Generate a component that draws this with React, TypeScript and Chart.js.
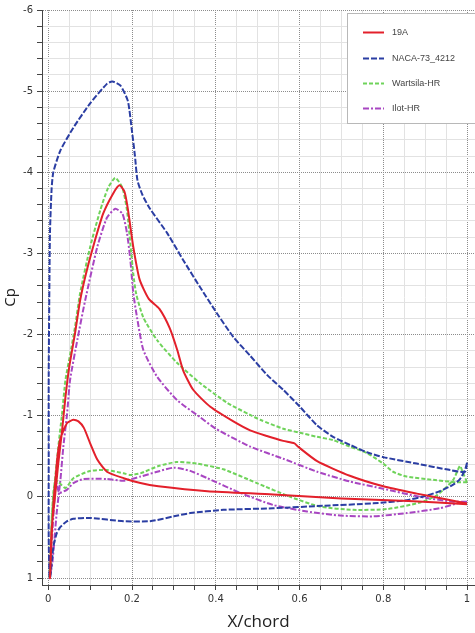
import React, { useEffect, useRef } from "react";
import { Chart, registerables } from "chart.js";

Chart.register(...registerables);

type Pt = [number, number];

// ---- Data (x/chord, Cp) : upper surface and lower surface, leading edge -> trailing edge ----
const upper19A: Pt[] = [
  [0.004, 1.0], [0.005, 0.86], [0.008, 0.4], [0.016, 0.0], [0.024, -0.42], [0.033, -0.82],
  [0.041, -1.23], [0.05, -1.6], [0.064, -2.02], [0.076, -2.42], [0.09, -2.75], [0.107, -3.08],
  [0.131, -3.49], [0.155, -3.74], [0.17, -3.84], [0.182, -3.76], [0.19, -3.55], [0.203, -3.08],
  [0.218, -2.68], [0.24, -2.44], [0.265, -2.32], [0.29, -2.08], [0.308, -1.81], [0.322, -1.56],
  [0.346, -1.32], [0.387, -1.11], [0.442, -0.93], [0.482, -0.82], [0.522, -0.75], [0.561, -0.69],
  [0.588, -0.66], [0.596, -0.62], [0.642, -0.44], [0.72, -0.26], [0.8, -0.13], [0.88, -0.04],
  [0.94, 0.02], [1.0, 0.08],
];
const lower19A: Pt[] = [
  [0.004, 1.0], [0.008, 0.5], [0.012, 0.1], [0.017, -0.21], [0.022, -0.5], [0.029, -0.72],
  [0.045, -0.91], [0.06, -0.95], [0.072, -0.93], [0.085, -0.85], [0.1, -0.66], [0.117, -0.46],
  [0.14, -0.31], [0.18, -0.23], [0.22, -0.17], [0.263, -0.13], [0.38, -0.07], [0.537, -0.03],
  [0.7, 0.02], [0.86, 0.05], [1.0, 0.09],
];

const upperNACA: Pt[] = [
  [0.003, 1.0], [0.001, 0.5], [0.001, -0.5], [0.001, -1.5], [0.002, -2.2], [0.004, -3.25],
  [0.008, -3.8], [0.012, -4.0], [0.029, -4.27], [0.06, -4.55], [0.1, -4.85], [0.14, -5.09],
  [0.153, -5.12], [0.172, -5.07], [0.19, -4.88], [0.2, -4.5], [0.207, -4.2], [0.213, -3.9],
  [0.225, -3.72], [0.243, -3.55], [0.284, -3.25], [0.322, -2.92], [0.363, -2.58], [0.403, -2.26],
  [0.442, -1.97], [0.482, -1.74], [0.523, -1.5], [0.561, -1.32], [0.601, -1.11], [0.642, -0.88],
  [0.68, -0.74], [0.721, -0.64], [0.761, -0.55], [0.8, -0.49], [0.88, -0.41], [0.96, -0.33],
  [0.995, -0.31], [1.0, -0.42],
];
const lowerNACA: Pt[] = [
  [0.003, 1.0], [0.005, 0.98], [0.012, 0.62], [0.02, 0.45], [0.029, 0.37], [0.045, 0.3],
  [0.06, 0.27], [0.1, 0.26], [0.18, 0.3], [0.243, 0.3], [0.3, 0.24], [0.339, 0.2], [0.418, 0.16],
  [0.537, 0.14], [0.656, 0.11], [0.776, 0.08], [0.856, 0.04], [0.9, -0.01], [0.935, -0.07],
  [0.967, -0.15], [0.983, -0.22], [0.995, -0.33], [1.0, -0.42],
];

const upperWartsila: Pt[] = [
  [0.003, 1.0], [0.005, 0.93], [0.009, 0.2], [0.016, -0.21], [0.024, -0.62], [0.033, -1.03],
  [0.041, -1.44], [0.052, -1.75], [0.064, -2.1], [0.076, -2.51], [0.1, -3.08], [0.124, -3.53],
  [0.143, -3.81], [0.16, -3.93], [0.177, -3.81], [0.188, -3.53], [0.196, -3.12], [0.203, -2.75],
  [0.21, -2.5], [0.227, -2.21], [0.26, -1.93], [0.308, -1.65], [0.363, -1.4], [0.427, -1.16],
  [0.482, -1.01], [0.506, -0.95], [0.561, -0.84], [0.601, -0.79], [0.642, -0.74], [0.68, -0.7],
  [0.72, -0.62], [0.761, -0.54], [0.8, -0.41], [0.823, -0.31], [0.856, -0.25], [0.919, -0.21],
  [0.976, -0.18], [1.0, -0.18],
];
const lowerWartsila: Pt[] = [
  [0.003, 1.0], [0.008, 0.3], [0.012, -0.05], [0.017, -0.2], [0.025, -0.18], [0.041, -0.11],
  [0.06, -0.23], [0.1, -0.32], [0.14, -0.33], [0.18, -0.29], [0.196, -0.27], [0.22, -0.29],
  [0.263, -0.38], [0.307, -0.43], [0.355, -0.41], [0.418, -0.34], [0.498, -0.17], [0.578, 0.0],
  [0.649, 0.12], [0.728, 0.16], [0.809, 0.15], [0.888, 0.07], [0.928, -0.02], [0.967, -0.21],
  [0.983, -0.38], [0.99, -0.3], [1.0, -0.18],
];

const upperIlot: Pt[] = [
  [0.003, 1.0], [0.01, 0.8], [0.02, 0.2], [0.029, -0.21], [0.036, -0.62], [0.045, -1.03],
  [0.052, -1.44], [0.07, -1.95], [0.088, -2.42], [0.117, -3.08], [0.14, -3.44], [0.16, -3.55],
  [0.177, -3.49], [0.188, -3.25], [0.196, -2.92], [0.203, -2.51], [0.212, -2.21], [0.227, -1.81],
  [0.26, -1.48], [0.308, -1.19], [0.363, -0.98], [0.4, -0.84], [0.482, -0.62], [0.561, -0.47],
  [0.642, -0.31], [0.72, -0.19], [0.8, -0.1], [0.888, 0.0], [0.967, 0.06], [1.0, 0.06],
];
const lowerIlot: Pt[] = [
  [0.003, 1.0], [0.01, 0.4], [0.017, -0.12], [0.02, -0.17], [0.026, -0.05], [0.045, -0.09],
  [0.06, -0.17], [0.084, -0.22], [0.14, -0.22], [0.18, -0.2], [0.22, -0.25], [0.26, -0.31],
  [0.3, -0.36], [0.339, -0.32], [0.38, -0.23], [0.458, -0.05], [0.537, 0.1], [0.618, 0.18],
  [0.697, 0.23], [0.776, 0.24], [0.856, 0.2], [0.935, 0.14], [0.983, 0.07], [1.0, 0.06],
];

const seriesNames = ["19A", "NACA-73_4212", "Wartsila-HR", "Ilot-HR"];
const seriesColors = ["#e3202b", "#2b3ea3", "#6fd35a", "#a846c2"];
const seriesDash: number[][] = [[], [6, 2], [4, 2], [6, 2, 2, 2]];
const seriesUpper = [upper19A, upperNACA, upperWartsila, upperIlot];
const seriesLower = [lower19A, lowerNACA, lowerWartsila, lowerIlot];

const xMajorValues = [0, 0.2, 0.4, 0.6, 0.8, 1];
const xTickLabels = ["0", "0.2", "0.4", "0.6", "0.8", "1"];
const yMajorValues = [-6, -5, -4, -3, -2, -1, 0, 1];
const yTickLabels = ["-6", "-5", "-4", "-3", "-2", "-1", "0", "1"];

const majorIndex = (v: number, majors: number[]) =>
  majors.findIndex((m) => Math.abs(m - v) < 1e-6);

const legendPlugin = {
  id: "insideLegend",
  afterDraw(chart: any) {
    const ctx = chart.ctx as CanvasRenderingContext2D;
    ctx.save();
    ctx.fillStyle = "#ffffff";
    ctx.fillRect(347.5, 13.5, 140, 110);
    ctx.strokeStyle = "#b8b8b8";
    ctx.lineWidth = 1;
    ctx.setLineDash([]);
    ctx.strokeRect(347.5, 13.5, 140, 110);
    const ys = [32, 58, 83, 108];
    ctx.font = "9px 'Liberation Sans', Arial, sans-serif";
    ctx.textBaseline = "middle";
    ctx.textAlign = "left";
    seriesNames.forEach((name, i) => {
      ctx.strokeStyle = seriesColors[i];
      ctx.lineWidth = 2;
      ctx.setLineDash(seriesDash[i]);
      ctx.beginPath();
      ctx.moveTo(363, ys[i] + 0.5);
      ctx.lineTo(384, ys[i] + 0.5);
      ctx.stroke();
      ctx.setLineDash([]);
      ctx.fillStyle = "#444444";
      ctx.fillText(name, 392, ys[i] + 1);
    });
    ctx.restore();
  },
};

export default function App() {
  const canvasRef = useRef<HTMLCanvasElement | null>(null);

  useEffect(() => {
    document.body.style.margin = "0";
    const canvas = canvasRef.current;
    if (!canvas) return;

    const datasets = seriesNames.map((name, i) => {
      const loop = [...seriesUpper[i].slice().reverse(), ...seriesLower[i].slice(1)];
      return {
        label: name,
        data: loop.map(([x, y]) => ({ x, y })),
        borderColor: seriesColors[i],
        backgroundColor: seriesColors[i],
        borderWidth: 2,
        borderDash: seriesDash[i],
        pointRadius: 0,
        showLine: true,
        fill: false,
        tension: 0.2,
      };
    });

    const majorColor = "#8c8c8c";
    const minorColor = "#e2e2e2";

    const chart = new Chart(canvas, {
      type: "scatter",
      data: { datasets },
      plugins: [legendPlugin],
      options: {
        animation: false,
        responsive: false,
        devicePixelRatio: 1,
        layout: { padding: { top: 9, right: 0, bottom: 0, left: 0 } },
        plugins: {
          legend: { display: false },
          tooltip: { enabled: false },
        },
        scales: {
          x: {
            type: "linear",
            min: -0.015,
            max: 1.019,
            afterFit: (scale: any) => {
              scale.height = 48;
            },
            ticks: {
              stepSize: 0.05,
              maxTicksLimit: 500,
              includeBounds: false,
              autoSkip: false,
              maxRotation: 0,
              padding: 3,
              color: "#333",
              font: { family: "'DejaVu Sans', sans-serif", size: 10 },
              callback: (v: any) => {
                const k = majorIndex(Number(v), xMajorValues);
                return k >= 0 ? xTickLabels[k] : "";
              },
            },
            grid: {
              tickLength: 5,
              tickColor: "#444",
              lineWidth: 1,
              color: (c: any) =>
                c.tick && majorIndex(c.tick.value, xMajorValues) >= 0 ? majorColor : minorColor,
            },
            border: {
              display: true,
              color: "#444",
              width: 1,
              dash: (c: any) =>
                c.tick && majorIndex(c.tick.value, xMajorValues) >= 0 ? [1, 1] : [],
            },
            title: {
              display: true,
              text: "X/chord",
              color: "#222",
              font: { family: "'Open Sans', sans-serif", size: 17 },
              padding: { top: 0, bottom: 1 },
            },
          },
          y: {
            type: "linear",
            reverse: true,
            min: -6,
            max: 1.086,
            afterFit: (scale: any) => {
              scale.width = 42;
            },
            ticks: {
              stepSize: 0.2,
              maxTicksLimit: 500,
              includeBounds: false,
              autoSkip: false,
              padding: 4,
              color: "#333",
              font: { family: "'DejaVu Sans', sans-serif", size: 10 },
              callback: (v: any) => {
                const k = majorIndex(Number(v), yMajorValues);
                return k >= 0 ? yTickLabels[k] : "";
              },
            },
            grid: {
              tickLength: 5,
              tickColor: "#444",
              lineWidth: 1,
              color: (c: any) =>
                c.tick && majorIndex(c.tick.value, yMajorValues) >= 0 ? majorColor : minorColor,
            },
            border: {
              display: true,
              color: "#444",
              width: 1,
              dash: (c: any) =>
                c.tick && majorIndex(c.tick.value, yMajorValues) >= 0 ? [1, 1] : [],
            },
            title: {
              display: true,
              text: "Cp",
              color: "#222",
              font: { family: "'Open Sans', sans-serif", size: 15 },
              padding: { top: 2, bottom: 0 },
            },
          },
        },
      } as any,
    });

    return () => {
      chart.destroy();
    };
  }, []);

  return (
    <div style={{ width: 475, height: 633, background: "#fff" }}>
      <canvas ref={canvasRef} width={475} height={633} style={{ display: "block" }} />
    </div>
  );
}
